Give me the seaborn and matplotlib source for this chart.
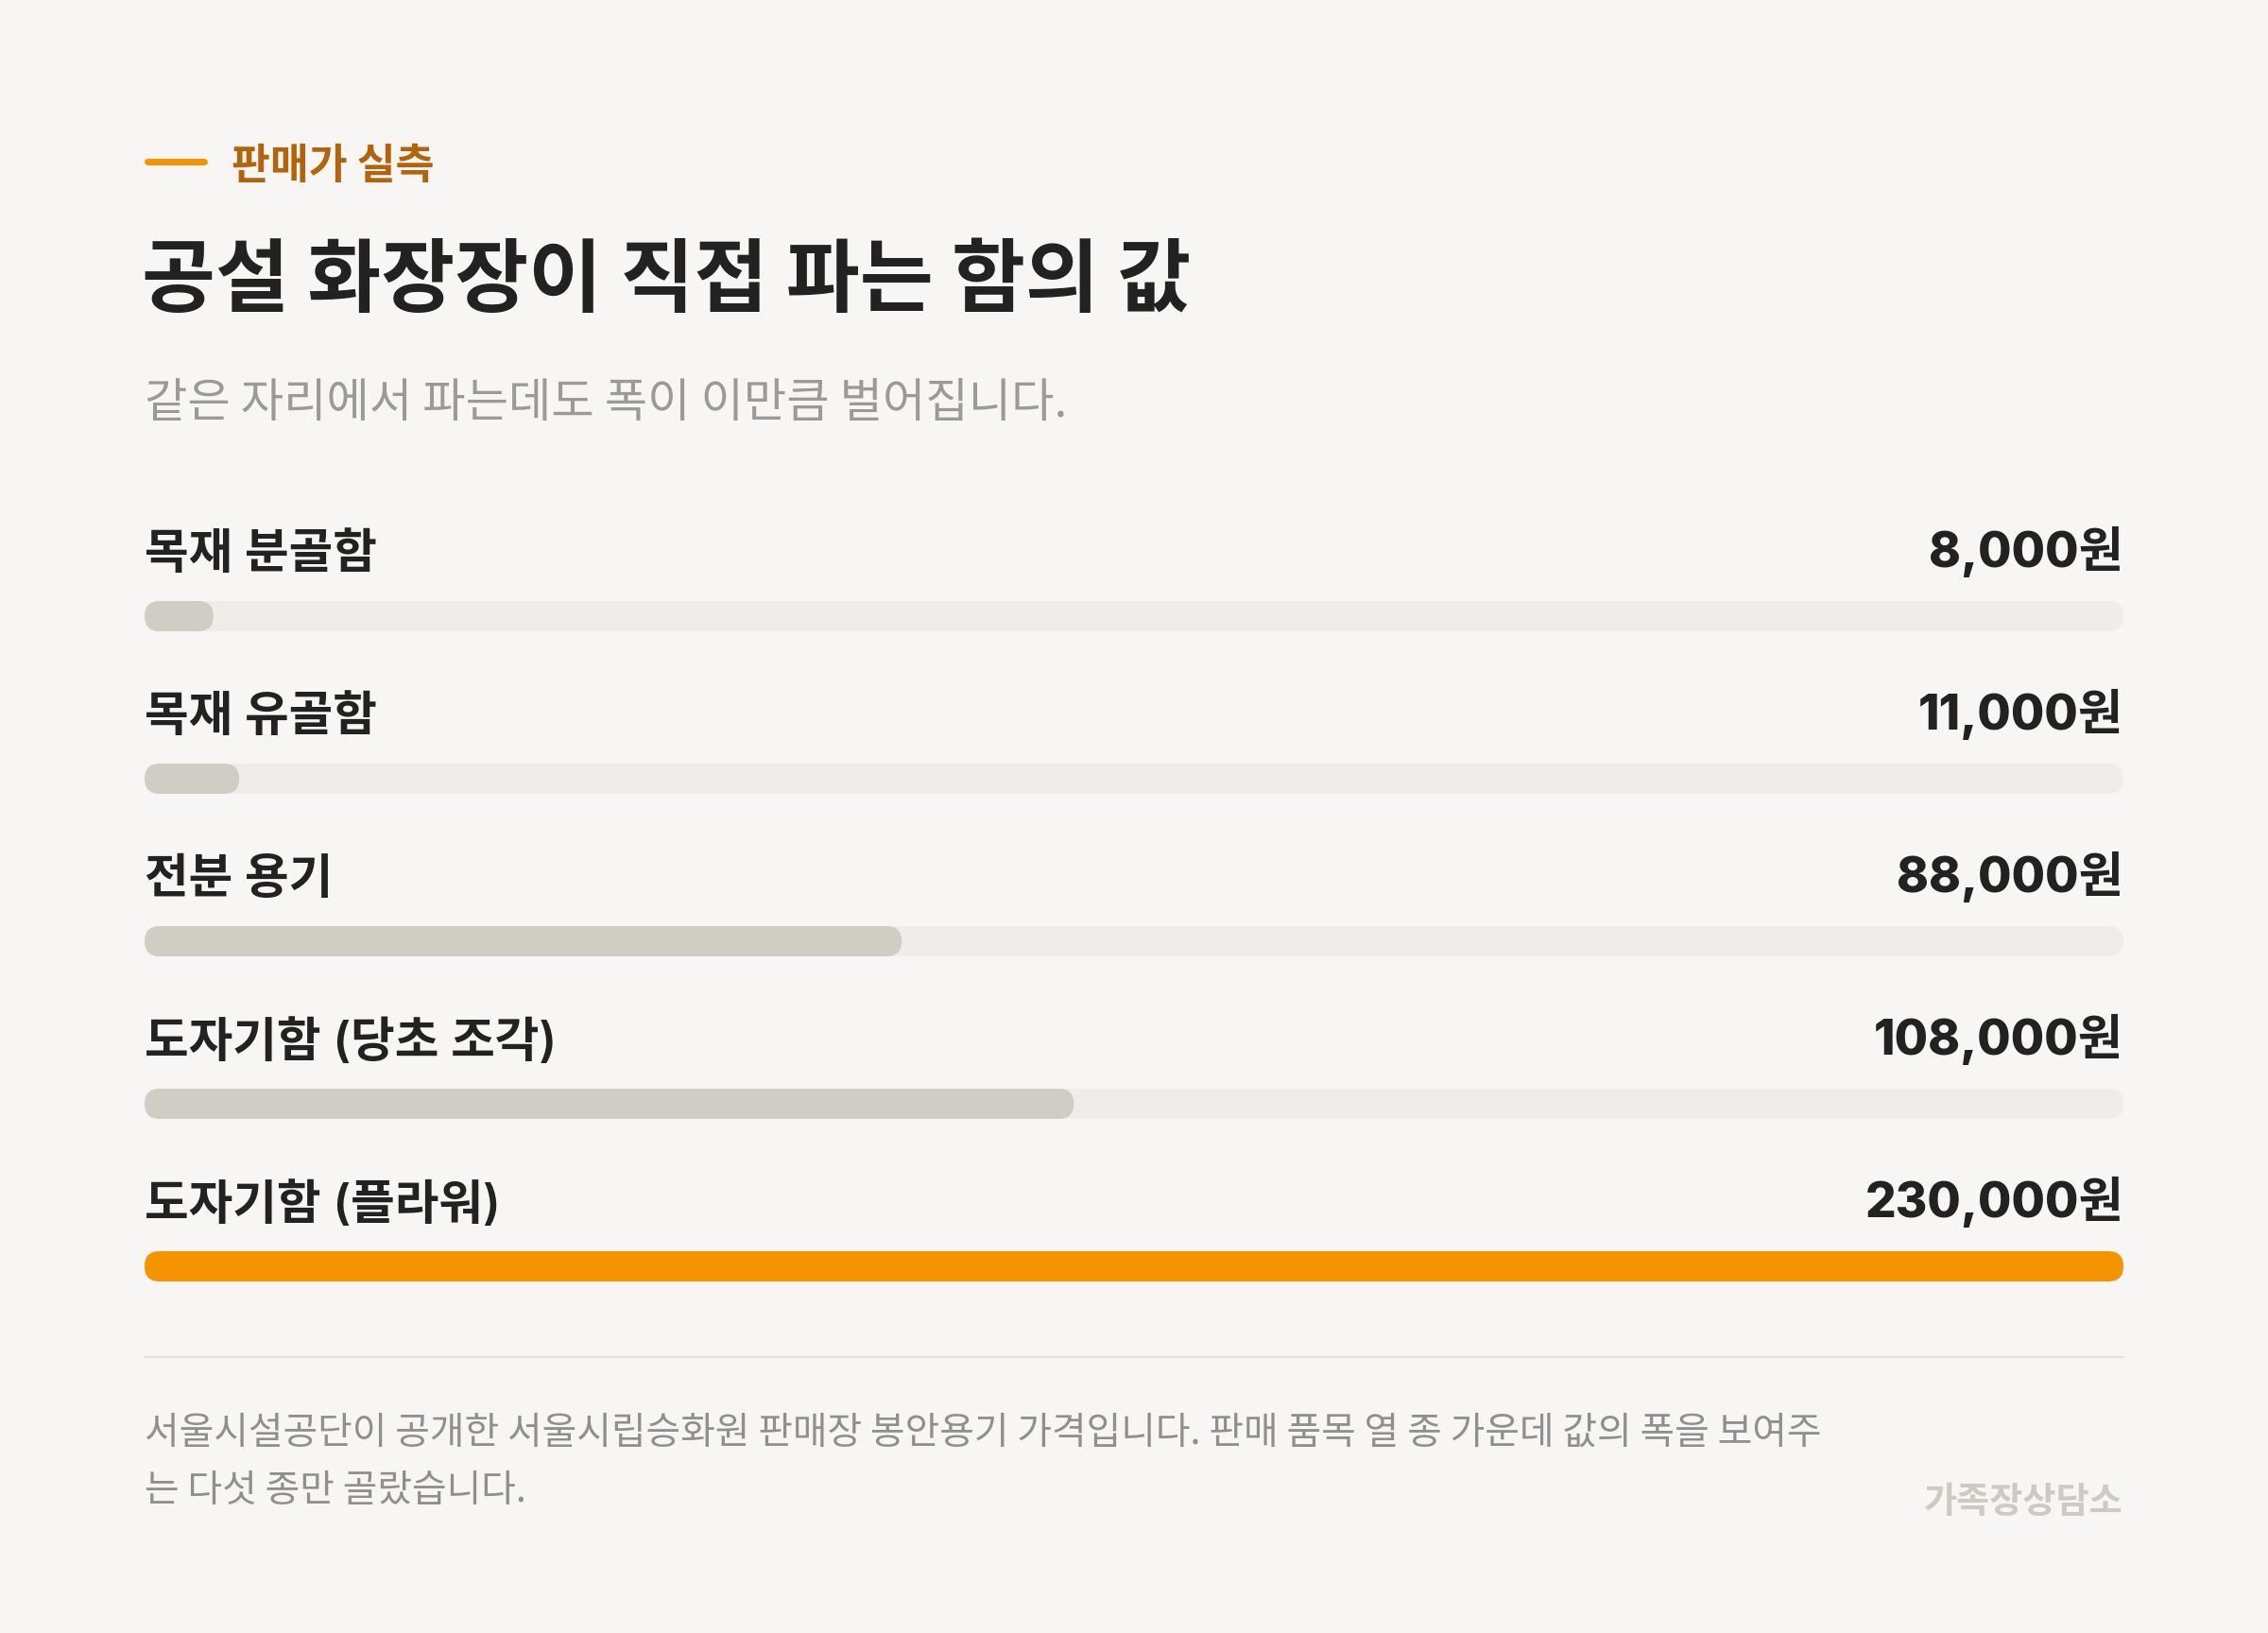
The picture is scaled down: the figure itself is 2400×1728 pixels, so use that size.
import matplotlib
matplotlib.use("Agg")
import matplotlib.pyplot as plt
from matplotlib.patches import FancyBboxPatch
from matplotlib.lines import Line2D
import pandas as pd
import seaborn as sns

# chart data
items = ["목재 분골함", "목재 유골함", "전분 용기", "도자기함 (당초 조각)", "도자기함 (플라워)"]
prices = [8000, 11000, 88000, 108000, 230000]
price_labels = ["8,000원", "11,000원", "88,000원", "108,000원", "230,000원"]
highlight = "도자기함 (플라워)"

eyebrow = "판매가 실측"
title = "공설 화장장이 직접 파는 함의 값"
subtitle = "같은 자리에서 파는데도 폭이 이만큼 벌어집니다."
note_lines = [
    "서울시설공단이 공개한 서울시립승화원 판매장 봉안용기 가격입니다. 판매 품목 열 종 가운데 값의 폭을 보여주",
    "는 다섯 종만 골랐습니다.",
]
brand = "가족장상담소"

# colours
BG = "#F7F6F4"
INK = "#222222"
ORANGE = "#F59300"
EYEBROW = "#B4630D"
TRACK = "#EEEDE9"
FILL = "#D0CDC5"
GREY = "#8F8F8F"
SUB = "#9A9A9A"
BRAND = "#CEC9C1"
RULE = "#E3E1DD"

sns.set_theme(style="white")
plt.rcParams["font.family"] = ["Noto Sans CJK KR", "DejaVu Sans"]
LATIN = ["Inter", "Noto Sans CJK KR", "DejaVu Sans"]

W, H = 2400, 1728
fig = plt.figure(figsize=(24, 17.28), dpi=100, facecolor=BG)


def fx(px):
    return px / W


def fy(py):
    return 1 - py / H


# bar area
left, right = 153, 2247
top, bottom = 566, 1426
ax = fig.add_axes([fx(left), fy(bottom), (right - left) / W, (bottom - top) / H])
ax.set_facecolor(BG)

df = pd.DataFrame({"item": items, "price": prices})
xmax = df["price"].max()
df["track"] = xmax
bar_w = 32 / 172

sns.barplot(data=df, x="track", y="item", color=TRACK, width=bar_w,
            saturation=1, ax=ax)
pal = {it: (ORANGE if it == highlight else FILL) for it in items}
sns.barplot(data=df, x="price", y="item", hue="item", palette=pal,
            width=bar_w, saturation=1, legend=False, ax=ax)

ax.set_xlim(0, xmax)
ax.set_ylim(len(items) - 0.5, -0.5)
ax.set_axis_off()

# rounded ends for every bar
xupp = xmax / (right - left)
yupp = len(items) / (bottom - top)
r = 16 * xupp
for p in list(ax.patches):
    x, y, w, h = p.get_x(), p.get_y(), p.get_width(), p.get_height()
    fc = p.get_facecolor()
    p.remove()
    ax.add_patch(FancyBboxPatch((x, y), w, h,
                                boxstyle=f"round,pad=0,rounding_size={r}",
                                mutation_aspect=yupp / xupp,
                                fc=fc, ec="none"))

# row labels and values
off = 65 / 172
for i, (it, lab) in enumerate(zip(items, price_labels)):
    ax.text(0, i - off, it, ha="left", va="center", fontsize=36.5,
            color=INK, weight="semibold", family=LATIN)
    ax.text(xmax, i - off - 3 / 172, lab, ha="right", va="center",
            fontsize=37, color=INK, weight="extra bold", family=LATIN)

# header
fig.add_artist(Line2D([fx(156), fx(216)], [fy(171), fy(171)], lw=5,
                      color=ORANGE, solid_capstyle="round"))
fig.text(fx(245), fy(176), eyebrow, ha="left", va="center", fontsize=32,
         color=EYEBROW, weight="bold")
fig.text(fx(150), fy(298), title, ha="left", va="center", fontsize=61,
         color=INK, weight="black")
fig.text(fx(153), fy(427), subtitle, ha="left", va="center", fontsize=35.5,
         color=SUB)

# footer
fig.add_artist(Line2D([fx(left), fx(right)], [fy(1436), fy(1436)], lw=1.5,
                      color=RULE))
fig.text(fx(153), fy(1517), note_lines[0], ha="left", va="center",
         fontsize=28.7, color=GREY)
fig.text(fx(153), fy(1578), note_lines[1], ha="left", va="center",
         fontsize=28.7, color=GREY)
fig.text(fx(right), fy(1589), brand, ha="right", va="center", fontsize=27.5,
         color=BRAND, weight="bold")

fig.savefig("out.png", dpi=100, facecolor=BG)
